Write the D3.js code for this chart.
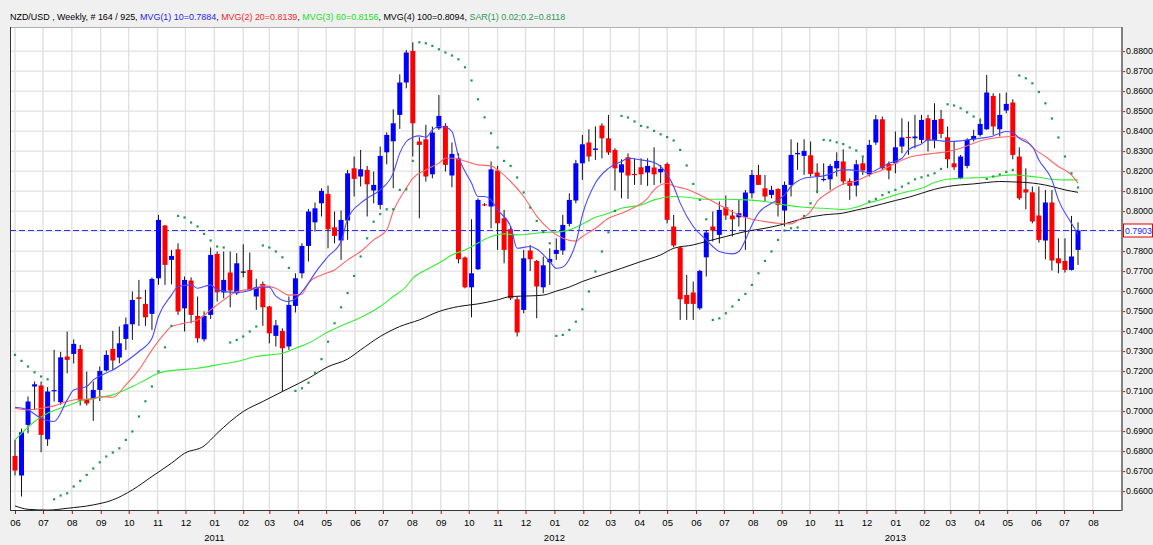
<!DOCTYPE html>
<html><head><meta charset="utf-8">
<script src="https://cdn.jsdelivr.net/npm/d3@7"></script>
<style>html,body{margin:0;padding:0;background:#f0f0f0;}svg{display:block;font-family:"Liberation Sans",Arial,sans-serif;}</style>
</head><body><svg id="c" width="1153" height="545"></svg>
<script>
// ---------------- DATA ----------------
const symbolTitle = "NZD/USD , Weekly, # 164 / 925, ";
const firstWeek = new Date(2010, 5, 1);
const candleCount = 164;
const open = [
.6776,.6678,.6931,.7123,.7128,.6859,.7100,.7044,.7273,.7286,
.7311,.7059,.7061,.7106,.7203,.7311,.7268,.7361,.7434,.7569,
.7536,.7486,.7664,.7928,.7756,.7809,.7514,.7653,.7476,.7359,
.7481,.7786,.7593,.7693,.7589,.7698,.7706,.7573,.7636,.7523,
.7376,.7401,.7323,.7526,.7689,.7826,.7944,.8039,.8086,.7919,
.7853,.7953,.8214,.8173,.8206,.8103,.8031,.8294,.8349,.8481,
.8643,.8801,.8348,.8359,.8184,.8414,.8426,.8178,.8264,.7768,
.7619,.7709,.8034,.8023,.8203,.7964,.7909,.7559,.7506,.7803,
.7751,.7619,.7744,.7786,.7803,.7936,.8053,.8239,.8343,.8306,
.8428,.8364,.8306,.8193,.8269,.8186,.8219,.8193,.8218,.8194,
.8236,.7923,.7818,.7581,.7593,.7514,.7769,.7923,.7881,.8019,
.7978,.7969,.7969,.8089,.8181,.8114,.8081,.8111,.8003,.8131,
.8284,.8276,.8279,.8193,.8156,.8159,.8214,.8248,.8151,.8128,
.8239,.8184,.8343,.8459,.8236,.8239,.8323,.8371,.8364,.8356,
.8464,.8356,.8461,.8369,.8239,.8164,.8226,.8359,.8381,.8409,
.8576,.8409,.8503,.8543,.8273,.8109,.8094,.7978,.7853,.8043,
.7764,.7751,.7706,.7806];
const high = [
.6856,.6913,.7073,.7148,.7148,.7120,.7306,.7296,.7398,.7359,
.7331,.7198,.7148,.7223,.7303,.7401,.7423,.7468,.7598,.7656,
.7606,.7668,.7981,.7931,.7806,.7839,.7673,.7669,.7573,.7498,
.7818,.7798,.7798,.7798,.7790,.7834,.7793,.7661,.7648,.7526,
.7456,.7414,.7573,.7689,.7839,.8011,.8043,.8114,.8128,.7998,
.8003,.8206,.8273,.8306,.8226,.8198,.8323,.8394,.8509,.8684,
.8806,.8844,.8369,.8431,.8423,.8581,.8439,.8343,.8289,.7773,
.7959,.8064,.8040,.8248,.8226,.8006,.7923,.7573,.7806,.7831,
.7756,.7773,.7814,.7864,.7981,.8089,.8256,.8381,.8409,.8423,
.8439,.8481,.8314,.8259,.8289,.8264,.8264,.8264,.8319,.8231,
.8243,.7981,.7823,.7681,.7648,.7706,.7906,.7998,.8048,.8078,
.8006,.8059,.8106,.8206,.8231,.8181,.8126,.8114,.8148,.8359,
.8343,.8359,.8348,.8239,.8239,.8236,.8294,.8309,.8164,.8256,
.8269,.8356,.8481,.8473,.8248,.8398,.8464,.8448,.8481,.8481,
.8481,.8539,.8506,.8423,.8348,.8281,.8364,.8406,.8464,.8681,
.8589,.8589,.8593,.8559,.8319,.8214,.8123,.8123,.8106,.8106,
.7864,.7864,.7976,.7944];
const low = [
.6679,.6573,.6889,.7006,.6794,.6826,.7048,.7031,.7189,.7238,
.7028,.7028,.6951,.7050,.7198,.7206,.7239,.7306,.7356,.7426,
.7426,.7406,.7631,.7631,.7634,.7481,.7398,.7439,.7343,.7348,
.7461,.7548,.7564,.7519,.7581,.7669,.7603,.7506,.7426,.7339,
.7323,.7098,.7306,.7493,.7664,.7748,.7898,.7973,.7814,.7839,
.7756,.7856,.8073,.8123,.7973,.8039,.8009,.8234,.8114,.8411,
.8614,.8273,.7964,.8148,.8164,.8406,.8198,.8119,.7739,.7614,
.7469,.7706,.8025,.7914,.7806,.7739,.7556,.7373,.7489,.7700,
.7464,.7589,.7631,.7756,.7781,.7923,.8039,.8156,.8248,.8256,
.8264,.8281,.8103,.8064,.8061,.8131,.8131,.8126,.8131,.8139,
.7939,.7819,.7456,.7456,.7456,.7506,.7673,.7848,.7839,.7956,
.7873,.7923,.7806,.8064,.8131,.8048,.8064,.7973,.7923,.8073,
.8206,.8181,.8173,.8089,.8148,.8106,.8173,.8131,.8056,.8073,
.8181,.8173,.8331,.8206,.8159,.8189,.8289,.8281,.8314,.8339,
.8298,.8314,.8364,.8214,.8206,.8159,.8214,.8348,.8373,.8406,
.8381,.8373,.8489,.8259,.8056,.8009,.7939,.7843,.7759,.7703,
.7689,.7693,.7703,.7731];
const close = [
.6703,.6894,.7048,.7134,.6881,.7098,.7105,.7269,.7256,.7336,
.7053,.7038,.7106,.7201,.7281,.7253,.7339,.7434,.7556,.7561,
.7469,.7661,.7956,.7731,.7776,.7498,.7656,.7481,.7364,.7476,
.7781,.7594,.7656,.7603,.7739,.7698,.7606,.7618,.7519,.7389,
.7429,.7314,.7531,.7664,.7826,.7998,.8014,.8101,.7909,.7876,
.7956,.8189,.8161,.8209,.8134,.8131,.8276,.8381,.8439,.8643,
.8793,.8439,.8331,.8173,.8393,.8476,.8231,.8286,.7759,.7619,
.7689,.8056,.8029,.8209,.7939,.7806,.7564,.7393,.7764,.7759,
.7623,.7729,.7761,.7806,.7931,.8056,.8239,.8334,.8273,.8313,
.8364,.8293,.8214,.8234,.8178,.8181,.8184,.8226,.8184,.8211,
.7956,.7828,.7559,.7536,.7536,.7701,.7893,.7903,.8006,.7978,
.7959,.7989,.8093,.8181,.8131,.8073,.8106,.8031,.8131,.8281,
.8291,.8301,.8186,.8173,.8161,.8226,.8251,.8148,.8126,.8234,
.8203,.8331,.8459,.8214,.8203,.8319,.8368,.8368,.8373,.8456,
.8353,.8456,.8386,.8259,.8219,.8273,.8356,.8376,.8436,.8593,
.8423,.8481,.8536,.8281,.8064,.8093,.7948,.7856,.8043,.7753,
.7739,.7706,.7773,.7903];
const sar = [
.7281,.7251,.7223,.7194,.7173,.7159,.6559,.6578,.6589,.6623,
.6651,.6681,.6713,.6744,.6773,.6793,.6814,.6856,.6898,.6973,
.7049,.7123,.7198,.7319,.7426,.7976,.7968,.7943,.7923,.7886,
.7853,.7823,.7818,.7343,.7356,.7373,.7398,.7423,.7828,.7818,
.7798,.7769,.7716,.7101,.7114,.7142,.7192,.7260,.7347,.7439,
.7519,.7590,.7676,.7773,.7864,.7947,.7985,.8009,.8009,.8106,
.8109,.8251,.8844,.8839,.8826,.8809,.8793,.8778,.8759,.8719,
.8653,.8559,.8469,.8389,.8318,.8251,.8226,.8168,.8093,.8018,
.7951,.7895,.7839,.7376,.7381,.7406,.7447,.7509,.7598,.7698,
.7798,.7894,.8001,.8476,.8468,.8448,.8426,.8419,.8401,.8384,
.8370,.8353,.8306,.8228,.8136,.8056,.7959,.7456,.7464,.7489,
.7523,.7556,.7586,.7631,.7689,.7751,.7798,.7856,.7903,.7914,
.7918,.7976,.8039,.8098,.8356,.8353,.8344,.8335,.8318,.8303,
.8273,.8048,.8061,.8080,.8094,.8106,.8122,.8139,.8159,.8169,
.8178,.8189,.8211,.8534,.8528,.8514,.8494,.8473,.8451,.8161,
.8173,.8183,.8196,.8206,.8678,.8664,.8639,.8596,.8539,.8463,
.8368,.8273,.8189,.8118];
// moving averages: [week index, value]
const mvg10 = [[0,.7019],[2,.7006],[4,.6964],[6,.6948],[8,.7056],[9,.7106],[11,.7123],[12,.7156],[14,.7190],[15,.7206],[17,.7248],[19,.7298],[21,.7364],[22,.7473],[24,.7580],[25,.7623],[27,.7631],[28,.7614],[30,.7631],[31,.7606],[34,.7593],[36,.7603],[37,.7619],[39,.7619],[40,.7575],[42,.7548],[43,.7562],[45,.7640],[46,.7690],[48,.7773],[50,.7848],[51,.7960],[53,.8040],[54,.8064],[56,.8106],[58,.8190],[59,.8290],[60,.8348],[61,.8369],[62,.8376],[63,.8369],[64,.8406],[65,.8423],[66,.8419],[67,.8398],[68,.8273],[70,.8140],[71,.8073],[72,.8073],[73,.8056],[74,.8006],[76,.7923],[77,.7814],[79,.7823],[80,.7810],[82,.7748],[83,.7714],[84,.7720],[85,.7760],[86,.7840],[87,.7980],[89,.8140],[91,.8214],[93,.8248],[94,.8264],[96,.8256],[98,.8243],[99,.8223],[101,.8123],[102,.8040],[104,.7923],[106,.7856],[107,.7823],[108,.7798],[110,.7786],[111,.7798],[112,.7856],[113,.7931],[114,.7989],[116,.8039],[117,.8056],[118,.8081],[119,.8123],[121,.8164],[122,.8169],[124,.8176],[125,.8186],[127,.8206],[128,.8206],[130,.8198],[131,.8193],[133,.8223],[134,.8239],[136,.8264],[137,.8306],[139,.8336],[140,.8356],[142,.8351],[143,.8348],[145,.8351],[146,.8356],[148,.8364],[150,.8376],[151,.8389],[152,.8398],[153,.8393],[154,.8364],[156,.8323],[157,.8256],[159,.8156],[160,.8056],[162,.7939],[163,.7884]];
const mvg20 = [[0,.7014],[2,.7006],[4,.7014],[6,.7026],[8,.7048],[10,.7059],[12,.7059],[13,.7073],[15,.7069],[17,.7131],[19,.7206],[21,.7306],[23,.7390],[24,.7423],[26,.7440],[28,.7456],[30,.7506],[32,.7556],[34,.7598],[37,.7614],[38,.7626],[40,.7614],[42,.7580],[44,.7585],[45,.7640],[47,.7681],[49,.7706],[51,.7756],[53,.7798],[55,.7856],[57,.7906],[58,.7998],[60,.8115],[61,.8164],[63,.8206],[65,.8240],[66,.8264],[67,.8264],[70,.8240],[71,.8231],[73,.8226],[74,.8206],[76,.8148],[78,.8073],[80,.7975],[82,.7906],[84,.7864],[86,.7850],[87,.7873],[89,.7914],[91,.7964],[93,.7989],[95,.8019],[97,.8064],[98,.8106],[100,.8139],[101,.8126],[103,.8109],[105,.8081],[107,.8048],[109,.8014],[111,.7981],[113,.7959],[115,.7948],[117,.7939],[119,.7936],[120,.7953],[122,.7998],[123,.8048],[125,.8098],[127,.8135],[129,.8150],[131,.8181],[133,.8206],[135,.8239],[137,.8268],[139,.8281],[141,.8289],[143,.8298],[145,.8314],[147,.8339],[149,.8359],[151,.8369],[153,.8373],[155,.8356],[156,.8319],[158,.8273],[160,.8223],[162,.8181],[163,.8139]];
const mvg60 = [[0,.6856],[3,.6948],[5,.6989],[8,.7026],[11,.7059],[13,.7068],[15,.7081],[18,.7123],[20,.7156],[22,.7189],[25,.7206],[28,.7214],[31,.7231],[34,.7248],[37,.7273],[39,.7281],[41,.7289],[43,.7314],[45,.7340],[48,.7395],[51,.7440],[53,.7468],[56,.7523],[58,.7573],[60,.7623],[61,.7664],[63,.7706],[65,.7740],[67,.7781],[69,.7806],[71,.7840],[73,.7873],[75,.7886],[77,.7881],[79,.7886],[81,.7893],[83,.7895],[85,.7906],[87,.7935],[89,.7969],[91,.7989],[93,.8014],[96,.8031],[98,.8056],[101,.8073],[103,.8069],[106,.8059],[109,.8059],[112,.8056],[115,.8048],[118,.8031],[121,.8019],[124,.8014],[127,.8008],[129,.8020],[131,.8043],[133,.8059],[135,.8081],[137,.8098],[139,.8114],[141,.8143],[143,.8159],[145,.8164],[147,.8166],[149,.8169],[151,.8176],[153,.8181],[155,.8176],[157,.8169],[159,.8159],[161,.8156],[163,.8156]];
const mvg100 = [[0,.6526],[2,.6509],[5,.6505],[8,.6514],[12,.6531],[15,.6556],[18,.6606],[21,.6673],[24,.6740],[26,.6789],[29,.6826],[31,.6889],[33,.6948],[35,.6998],[38,.7048],[41,.7098],[42,.7114],[45,.7164],[48,.7222],[51,.7260],[53,.7306],[56,.7373],[59,.7423],[62,.7456],[65,.7498],[68,.7523],[71,.7536],[74,.7556],[76,.7573],[79,.7576],[81,.7580],[83,.7600],[85,.7620],[87,.7648],[90,.7681],[93,.7714],[96,.7748],[99,.7781],[101,.7814],[104,.7831],[106,.7848],[109,.7873],[112,.7898],[115,.7914],[118,.7936],[121,.7964],[124,.7981],[127,.7990],[129,.8005],[131,.8019],[133,.8036],[135,.8053],[137,.8069],[139,.8089],[141,.8109],[143,.8123],[145,.8131],[147,.8136],[149,.8143],[151,.8148],[153,.8146],[155,.8143],[157,.8136],[159,.8123],[161,.8106],[163,.8094]];
const yTicks = [0.66,0.67,0.68,0.69,0.70,0.71,0.72,0.73,0.74,0.75,0.76,0.77,0.78,0.79,0.80,0.81,0.82,0.83,0.84,0.85,0.86,0.87,0.88];
const monthLabels = ["06","07","08","09","10","11","12","01","02","03","04","05","06","07","08","09","10","11","12","01","02","03","04","05","06","07","08","09","10","11","12","01","02","03","04","05","06","07","08"];
const yearLabels = ["2011","2012","2013"];
const legend = [
  {text:symbolTitle, color:"#000"},
  {text:"MVG(1) 10=0.7884", color:"#1c1cf0"},
  {text:", ", color:"#000"},
  {text:"MVG(2) 20=0.8139", color:"#f02828"},
  {text:", ", color:"#000"},
  {text:"MVG(3) 60=0.8156", color:"#22dd22"},
  {text:", ", color:"#000"},
  {text:"MVG(4) 100=0.8094", color:"#000"},
  {text:", ", color:"#000"},
  {text:"SAR(1) 0.02;0.2=0.8118", color:"#2f9a55"}
];

// ---------------- LAYOUT ----------------
const W = 1153, H = 545;
const P = {l:10, r:1121, t:27, b:510};
const FS = "8.8px";
const svg = d3.select("#c");
const dates = d3.range(candleCount).map(i => d3.timeWeek.offset(firstWeek, i));
const x = d3.scaleTime().domain([dates[0], dates[candleCount-1]]).range([15, 1078]);
const y = d3.scaleLinear().domain([0.66, 0.88]).range([491.1, 51.1]);
const monthDates = d3.timeMonth.range(new Date(2010,5,1), new Date(2013,7,2));

svg.append("rect").attr("width",W).attr("height",H).attr("fill","#f0f0f0");
svg.append("rect").attr("x",P.l).attr("y",P.t).attr("width",P.r-P.l).attr("height",P.b-P.t).attr("fill","#fff");
svg.append("clipPath").attr("id","clip").append("rect")
  .attr("x",P.l).attr("y",P.t).attr("width",P.r-P.l).attr("height",P.b-P.t);
const plot = svg.append("g").attr("clip-path","url(#clip)");

// grid
plot.selectAll(".hg").data(yTicks).join("line")
  .attr("x1",P.l).attr("x2",P.r).attr("y1",d=>y(d)).attr("y2",d=>y(d))
  .attr("stroke","#e1e1e1").attr("stroke-width",1.4);
plot.selectAll(".vg").data(monthDates).join("line")
  .attr("x1",d=>x(d)).attr("x2",d=>x(d)).attr("y1",P.t).attr("y2",P.b)
  .attr("stroke","#e1e1e1").attr("stroke-width",1.4);

// last price dashed line
const lastClose = close[candleCount-1];
plot.append("line").attr("x1",P.l).attr("x2",P.r).attr("y1",y(lastClose)).attr("y2",y(lastClose))
  .attr("stroke","#3030ff").attr("stroke-width",1).attr("stroke-dasharray","6,3");

// candles
const idx = d3.range(candleCount);
plot.selectAll(".wick").data(idx).join("line")
  .attr("x1",i=>x(dates[i])).attr("x2",i=>x(dates[i]))
  .attr("y1",i=>y(high[i])).attr("y2",i=>y(low[i]))
  .attr("stroke","#111").attr("stroke-width",1);
plot.selectAll(".body").data(idx).join("rect")
  .attr("x",i=>x(dates[i])-2.5).attr("width",5)
  .attr("y",i=>y(Math.max(open[i],close[i])))
  .attr("height",i=>Math.max(1.2, Math.abs(y(open[i])-y(close[i]))))
  .attr("fill",i=> close[i]>open[i] ? "#0000ff" : (close[i]<open[i] ? "#ff0000" : "#000"));

// moving averages
const line = d3.line().x(d=>x(dates[d[0]])).y(d=>y(d[1])).curve(d3.curveMonotoneX);
[[mvg100,"#111",1],[mvg60,"#33ee33",1.1],[mvg20,"#ff6464",1.1],[mvg10,"#4848ff",1.1]].forEach(([data,col,w])=>{
  plot.append("path").datum(data).attr("d",line).attr("fill","none").attr("stroke",col).attr("stroke-width",w);
});

// SAR dots
plot.selectAll(".sar").data(idx).join("rect")
  .attr("x",i=>x(dates[i])-1.1).attr("y",i=>y(sar[i])-1.1).attr("width",2.2).attr("height",2.2)
  .attr("fill","#1f9a4f");

// frame
svg.append("line").attr("x1",P.l).attr("x2",P.r).attr("y1",P.t+0.5).attr("y2",P.t+0.5).attr("stroke","#b0b0b0");
svg.append("line").attr("x1",P.l+0.5).attr("x2",P.l+0.5).attr("y1",P.t).attr("y2",P.b).attr("stroke","#333");
svg.append("line").attr("x1",P.l).attr("x2",P.r).attr("y1",P.b+0.5).attr("y2",P.b+0.5).attr("stroke","#333");

// y axis
const yAxis = svg.append("g").attr("transform",`translate(${P.r+1},0)`)
  .call(d3.axisRight(y).tickValues(yTicks).tickFormat(d3.format(".4f")).tickSize(3).tickPadding(1));
yAxis.select(".domain").remove();
yAxis.selectAll(".tick line").attr("stroke","#e00000");
yAxis.selectAll(".tick text").attr("fill","#000").style("font-size",FS).style("font-family","Liberation Sans, Arial, sans-serif");
svg.append("line").attr("x1",P.r+1).attr("x2",P.r+1).attr("y1",P.t).attr("y2",P.b+1).attr("stroke","#808080").attr("stroke-width",2);

// x axis
const xAxis = svg.append("g").attr("transform",`translate(0,${P.b+1})`)
  .call(d3.axisBottom(x).tickValues(monthDates).tickFormat((d,i)=>monthLabels[i]).tickSize(3).tickPadding(5));
xAxis.select(".domain").remove();
xAxis.selectAll(".tick line").attr("stroke","#e00000");
xAxis.selectAll(".tick text").attr("fill","#000").style("font-size","9.5px").style("font-family","Liberation Sans, Arial, sans-serif");
const janDates = monthDates.filter(d=>d.getMonth()===0);
svg.selectAll(".yr").data(janDates).join("text")
  .attr("x",d=>x(d)).attr("y",541).attr("text-anchor","middle")
  .style("font-size","9.5px").text((d,i)=>yearLabels[i]);

// last price box
const ly = y(lastClose);
svg.append("rect").attr("x",P.r+2.5).attr("y",ly-6.5).attr("width",29).attr("height",13)
  .attr("fill","#fff").attr("stroke","#e00000").attr("stroke-width",1);
svg.append("text").attr("x",P.r+4).attr("y",ly+3.3).attr("fill","#2020ff").style("font-size",FS)
  .text(d3.format(".4f")(lastClose));

// header legend
const hdr = svg.append("text").attr("x",10).attr("y",20).style("font-size","10px");
legend.forEach(p=>hdr.append("tspan").attr("fill",p.color).text(p.text));
const tl = hdr.node().getComputedTextLength();
if (tl>0) hdr.style("font-size", (10*556/tl).toFixed(2)+"px");
</script></body></html>
